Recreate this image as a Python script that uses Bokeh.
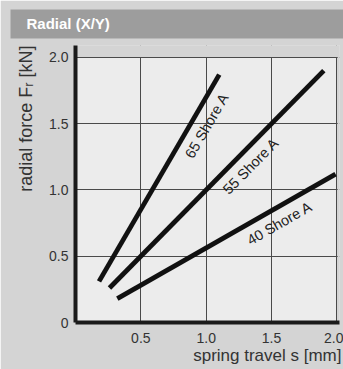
import math
from bokeh.plotting import figure
from bokeh.models import FixedTicker, Range1d, Title
from bokeh.core.properties import value
from bokeh.embed import file_html
from bokeh.resources import INLINE

# ---- data ----
hardness = ["65 Shore A", "55 Shore A", "40 Shore A"]
travel_65 = [0.18, 1.10]
force_65 = [0.31, 1.87]
travel_55 = [0.26, 1.90]
force_55 = [0.26, 1.90]
travel_40 = [0.32, 1.99]
force_40 = [0.18, 1.12]
x_ticks = [0.5, 1.0, 1.5, 2.0]
x_tick_labels = ["0.5", "1.0", "1.5", "2.0"]
y_ticks = [0.0, 0.5, 1.0, 1.5, 2.0]
y_tick_labels = ["0", "0.5", "1.0", "1.5", "2.0"]
title_text = "Radial (X/Y)"
x_label = "spring travel s [mm]"
y_label = "radial force Fᵣ [kN]"

BG = "#d4d4d4"
PANEL = "#ececec"
BAND = "#9d9d9d"
FONT = "Liberation Sans"

W, H = 343, 369
X_END, Y_END = 2.02, 2.09
FRAME_W, FRAME_H = 264, 277

p = figure(width=W, height=H, output_backend="svg", toolbar_location=None,
           x_range=Range1d(0, X_END), y_range=Range1d(0, Y_END),
           min_border_left=75, min_border_right=4, min_border_top=45,
           min_border_bottom=47, title=title_text)
p.background_fill_color = BG
p.border_fill_color = BG
p.outline_line_color = None

t = p.title
t.text_color = "white"
t.text_font = FONT
t.text_font_size = "15px"
t.text_font_style = "bold"
t.offset = -65
t.standoff = 14
t.background_fill_color = BAND
t.padding = dict(left=16, right=400, top=5, bottom=7)

# light plotting area
r = p.quad(left=[0], right=[x_ticks[-1]], bottom=[0], top=[y_ticks[-1]],
           fill_color=PANEL, line_color=None)
r.level = "image"

for g, ticks in ((p.xgrid, x_ticks), (p.ygrid, y_ticks)):
    g.ticker = FixedTicker(ticks=ticks)
    g.grid_line_color = "#4a4a4a"
    g.grid_line_width = 1

# cover grid outside the light area
p.quad(left=[0], right=[X_END], bottom=[y_ticks[-1] + 0.004], top=[Y_END],
       fill_color=BG, line_color=None)
p.quad(left=[x_ticks[-1] + 0.006], right=[X_END], bottom=[0], top=[Y_END],
       fill_color=BG, line_color=None)

kx = FRAME_W / X_END
ky = FRAME_H / Y_END
series = [(travel_65, force_65, 0.79), (travel_55, force_55, 0.61), (travel_40, force_40, 0.71)]
for (xs, ys, frac), name in zip(series, hardness):
    p.line(xs, ys, line_color="#111111", line_width=4.8, line_cap="butt")
    dx, dy = xs[1] - xs[0], ys[1] - ys[0]
    ang = math.atan2(dy * ky, dx * kx)
    lx = xs[0] + frac * dx
    ly = ys[0] + frac * dy
    off = 15
    ox = off * math.sin(ang)
    oy = off * math.cos(ang)   # screen down is positive
    p.text(x=[lx], y=[ly], text=[name], angle=ang, x_offset=ox, y_offset=oy,
           text_align="center", text_baseline="middle",
           text_font=value(FONT), text_font_size="14.5px", text_color="#222222")

for ax in (p.xaxis[0], p.yaxis[0]):
    ax.axis_line_width = 4
    ax.axis_line_color = "#1a1a1a"
    ax.major_tick_out = 0
    ax.major_tick_in = 0
    ax.minor_tick_out = 0
    ax.minor_tick_in = 0
    ax.major_label_text_font = FONT
    ax.major_label_text_font_size = "14px"
    ax.major_label_text_color = "#333333"

p.xaxis[0].ticker = FixedTicker(ticks=x_ticks)
p.xaxis[0].major_label_overrides = dict(zip(x_ticks, x_tick_labels))
p.yaxis[0].ticker = FixedTicker(ticks=y_ticks)
p.yaxis[0].major_label_overrides = dict(zip(y_ticks, y_tick_labels))
p.xaxis[0].major_label_standoff = 10
p.yaxis[0].major_label_standoff = 7

# axis titles, aligned to the far ends of the axes as in the original
p.add_layout(Title(text=x_label, align="right", vertical_align="top",
                   offset=-2, standoff=1, text_font=FONT,
                   text_font_size="17px", text_font_style="normal",
                   text_color="#333333"), "below")
p.add_layout(Title(text=y_label, align="right", offset=0, standoff=22,
                   text_font=FONT, text_font_size="18px",
                   text_font_style="normal", text_color="#333333"), "left")

html = file_html(p, INLINE)
html = html.replace("<body>", '<body style="background:%s">' % BG, 1)
open("out.html", "w").write(html)
